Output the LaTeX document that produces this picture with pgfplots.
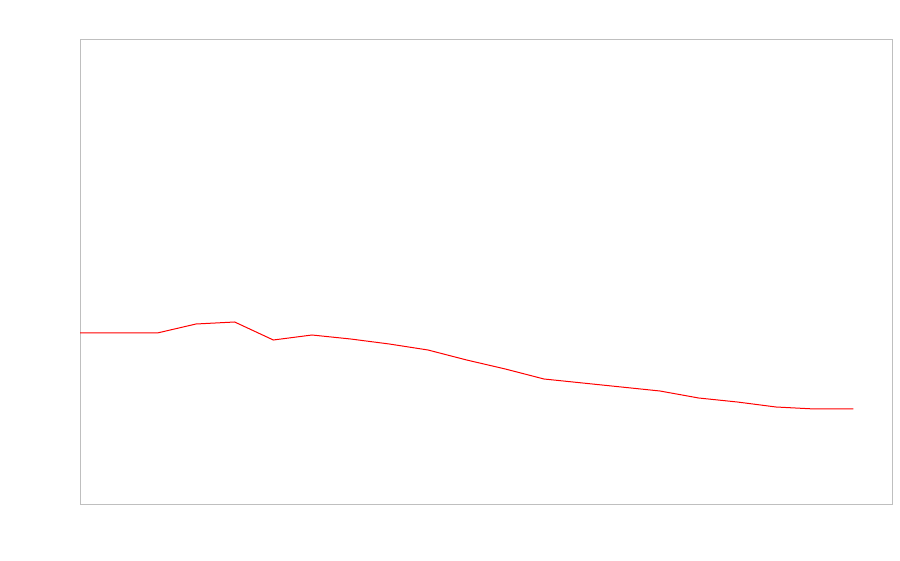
\documentclass[border=0pt]{standalone}
\usepackage{pgfplots}
\pgfplotsset{compat=1.18}
\begin{document}
\begin{tikzpicture}
\path (0,0) rectangle (900pt,560pt);
\begin{axis}[
  at={(80pt,56pt)}, anchor=south west,
  width=812pt, height=464pt, scale only axis,
  xmin=0, xmax=21, ymin=0, ymax=464,
  xtick=\empty, ytick=\empty,
  axis line style={draw=black!25, line width=1pt},
]
\addplot[red, line width=1pt, mark=none] coordinates {
(0,171) (1,171) (2,171) (3,180) (4,182) (5,164) (6,169) (7,165) (8,160) (9,154)
(10,144) (11,135) (12,125) (13,121) (14,117) (15,113) (16,106) (17,102) (18,97) (19,95) (20,95)
};
\end{axis}
\end{tikzpicture}
\end{document}
